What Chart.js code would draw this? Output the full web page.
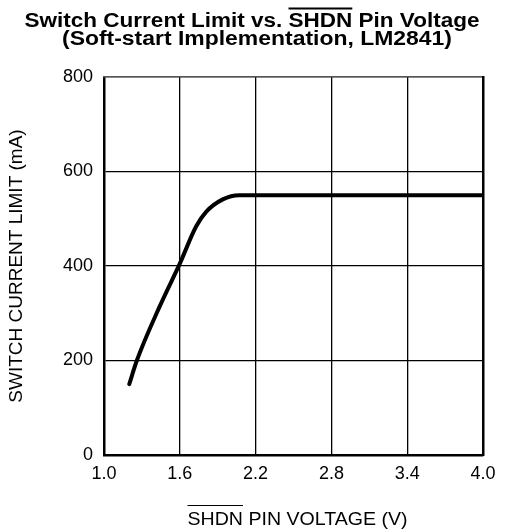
<!DOCTYPE html>
<html>
<head>
<meta charset="utf-8">
<script src="https://cdn.jsdelivr.net/npm/chart.js@4/dist/chart.umd.min.js"></script>
<style>
  html, body { margin: 0; padding: 0; background: #fff; }
  #wrap { position: relative; width: 506px; height: 529px; }
</style>
</head>
<body>
<div id="wrap"><canvas id="chart" width="506" height="529"></canvas></div>
<script>
// values
const voltage = [1.2, 1.26, 1.44, 1.6, 1.73, 1.81, 1.94, 2.07, 2.2, 4.0]
const currentLimit = [150, 200, 314, 405, 484, 515, 541, 550, 550, 550]
const xTicks = [1.0, 1.6, 2.2, 2.8, 3.4, 4.0]
const yTicks = [0, 200, 400, 600, 800]

const FONT = '"Liberation Sans", Arial, sans-serif'

// titles with the overlined SHDN, stretched to the widths seen in the reference
const textPlugin = {
  id: 'texts',
  afterDraw(chart) {
    const ctx = chart.ctx
    const area = chart.chartArea
    ctx.save()
    ctx.fillStyle = '#000'
    ctx.strokeStyle = '#000'
    ctx.textBaseline = 'alphabetic'
    ctx.textAlign = 'left'

    function drawPieces(pieces, cx, baseY, font, width, lw, over) {
      ctx.font = font
      let total = 0
      pieces.forEach(p => total += ctx.measureText(p.t).width)
      const sx = width ? width / total : 1
      ctx.save()
      ctx.translate(cx - total * sx / 2, baseY)
      ctx.scale(sx, 1)
      let x = 0
      pieces.forEach(p => {
        const w = ctx.measureText(p.t).width
        ctx.fillText(p.t, x, 0)
        if (p.o) {
          ctx.save()
          ctx.setTransform(1, 0, 0, 1, 0, 0)
          ctx.lineWidth = lw
          ctx.beginPath()
          const x0 = cx - total * sx / 2 + x * sx
          ctx.moveTo(x0, baseY - over)
          ctx.lineTo(x0 + w * sx, baseY - over)
          ctx.stroke()
          ctx.restore()
        }
        x += w
      })
      ctx.restore()
    }

    const bold = 'bold 20px ' + FONT
    drawPieces([{t: 'Switch Current Limit vs. '}, {t: 'SHDN', o: true}, {t: ' Pin Voltage'}], 252, 27, bold, 455, 1.8, 18.5)
    drawPieces([{t: '(Soft-start Implementation, LM2841)'}], 257, 45, bold, 390, 1.8, 17)

    const cx = (area.left + area.right) / 2
    drawPieces([{t: 'SHDN', o: true}, {t: ' PIN VOLTAGE (V)'}], cx + 4, 525, '19px ' + FONT, 220, 1.2, 19.5)
    ctx.restore()
  }
}

new Chart(document.getElementById('chart').getContext('2d'), {
  type: 'scatter',
  data: {
    datasets: [{
      data: voltage.map((v, i) => ({ x: v, y: currentLimit[i] })),
      showLine: true,
      borderColor: '#000',
      borderWidth: 4,
      borderCapStyle: 'round',
      cubicInterpolationMode: 'monotone',
      pointRadius: 0
    }]
  },
  options: {
    responsive: false,
    animation: false,
    layout: { padding: { top: 77, right: 23, left: 0, bottom: 0 } },
    plugins: { legend: { display: false }, tooltip: { enabled: false } },
    scales: {
      x: {
        type: 'linear',
        min: 1.0,
        max: 4.0,
        afterBuildTicks: s => { s.ticks = xTicks.map(v => ({ value: v })) },
        afterFit: s => { s.height = 74 },
        ticks: {
          color: '#000',
          font: { family: FONT, size: 18 },
          padding: 8,
          maxRotation: 0,
          callback: v => v.toFixed(1)
        },
        grid: { color: '#000', lineWidth: 1.3, drawTicks: false },
        border: { color: '#000', width: 2.5 }
      },
      y: {
        min: 0,
        max: 800,
        afterBuildTicks: s => { s.ticks = yTicks.map(v => ({ value: v })) },
        afterFit: s => { s.width = 104 },
        ticks: {
          color: '#000',
          font: { family: FONT, size: 18 },
          padding: 11
        },
        grid: { color: '#000', lineWidth: 1.3, drawTicks: false },
        border: { color: '#000', width: 2.5 },
        title: {
          display: true,
          text: 'SWITCH CURRENT LIMIT (mA)',
          color: '#000',
          font: { family: FONT, size: 19, weight: 'normal' },
          padding: { top: 5, bottom: 0 }
        }
      },
      x2: {
        position: 'top',
        type: 'linear',
        min: 1.0,
        max: 4.0,
        ticks: { display: false },
        grid: { display: false, drawTicks: false },
        border: { color: '#555', width: 1.5 },
        afterFit: s => { s.height = 0 }
      },
      y2: {
        position: 'right',
        min: 0,
        max: 800,
        ticks: { display: false },
        grid: { display: false, drawTicks: false },
        border: { color: '#000', width: 2.5 },
        afterFit: s => { s.width = 0 }
      }
    }
  },
  plugins: [textPlugin]
})
</script>
</body>
</html>
